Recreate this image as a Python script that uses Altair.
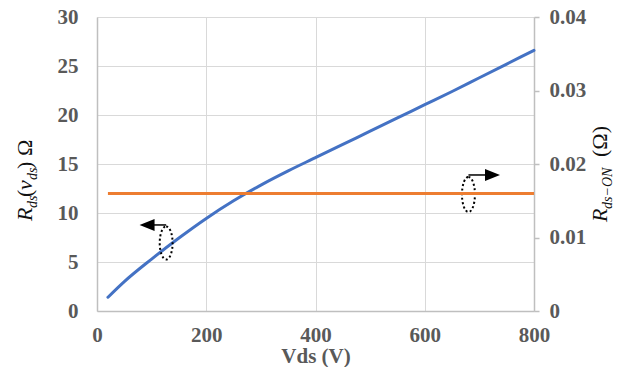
import altair as alt
import pandas as pd

# ---- data ----
vds = [20, 50, 100, 150, 200, 250, 300, 350, 400, 450, 500, 550, 600, 650, 700, 750, 800]
rds = [1.4, 3.0, 5.3, 7.45, 9.45, 11.25, 12.85, 14.3, 15.65, 17.0, 18.35, 19.7, 21.05, 22.4, 23.8, 25.2, 26.6]
ron_v = [20, 800]
ron = [0.016, 0.016]
x_ticks = [0, 200, 400, 600, 800]
left_ticks = [0, 5, 10, 15, 20, 25, 30]
right_ticks = [0, 0.01, 0.02, 0.03, 0.04]

# annotation anchors (data coords on the left scale)
ell_v = [126.6, 680]
ell_r = [6.94, 11.89]
arrow_v = [126.6, 680]
arrow_v2 = [97, 714]
arrow_r = [8.78, 13.88]
head_v = [91.7, 724]
head_r = [8.78, 13.88]

BLUE = "#4472C4"
ORANGE = "#ED7D31"
GRID = "#d9d9d9"
DOMAIN = "#bfbfbf"
LAB = "#595959"
FONT = "Liberation Serif"

xscale = alt.Scale(domain=[0, 800], nice=False, zero=False)
yscale = alt.Scale(domain=[0, 30], nice=False)

df_blue = pd.DataFrame({"v": vds, "r": rds})
df_orange = pd.DataFrame({"v": ron_v, "r2": ron})

blue = alt.Chart(df_blue).mark_line(color=BLUE, strokeWidth=3, strokeCap="round",
                                    interpolate="monotone").encode(
    x=alt.X("v:Q", scale=xscale,
            axis=alt.Axis(values=x_ticks, title="Vds (V)", grid=True, gridColor=GRID,
                          domainColor=DOMAIN, domainWidth=1.5, ticks=False, tickSize=0,
                          labelFont=FONT, labelFontSize=21, labelFontWeight="bold",
                          labelColor=LAB, labelPadding=13, labelFlush=False,
                          titleFont=FONT, titleFontSize=21, titleFontWeight="bold",
                          titleColor=LAB, titlePadding=0)),
    y=alt.Y("r:Q", scale=yscale,
            axis=alt.Axis(values=left_ticks, title=None, orient="left", grid=True,
                          gridColor=GRID, domainColor=DOMAIN, domainWidth=1.5,
                          ticks=False, tickSize=0, labelFont=FONT, labelFontSize=21,
                          labelFontWeight="bold", labelColor=LAB, labelPadding=19)),
)

df_ell = pd.DataFrame({"v": ell_v, "r": ell_r})
ell_left = alt.Chart(df_ell.iloc[[0]]).mark_point(
    shape="M0,-1 A0.39,1 0 1,1 0,1 A0.39,1 0 1,1 0,-1 Z", size=1089,
    filled=False, stroke="black", strokeWidth=2, strokeDash=[2, 2.5], opacity=1,
).encode(x=alt.X("v:Q", scale=xscale), y=alt.Y("r:Q", scale=yscale))
ell_right = alt.Chart(df_ell.iloc[[1]]).mark_point(
    shape="M0,-1 A0.37,1 0 1,1 0,1 A0.37,1 0 1,1 0,-1 Z", size=1225,
    filled=False, stroke="black", strokeWidth=2, strokeDash=[2, 2.5], opacity=1,
).encode(x=alt.X("v:Q", scale=xscale), y=alt.Y("r:Q", scale=yscale))

df_arrow = pd.DataFrame({"v": arrow_v, "v2": arrow_v2, "r": arrow_r})
arrows = alt.Chart(df_arrow).mark_rule(color="black", strokeWidth=1.5).encode(
    x=alt.X("v:Q", scale=xscale), x2="v2:Q",
    y=alt.Y("r:Q", scale=yscale))

df_head = pd.DataFrame({"v": head_v, "r": head_r})
head_left = alt.Chart(df_head.iloc[[0]]).mark_point(
    shape="M-1,0 L1,-0.8 L1,0.8 Z", size=225, filled=True, color="black", opacity=1,
).encode(x=alt.X("v:Q", scale=xscale), y=alt.Y("r:Q", scale=yscale))
head_right = alt.Chart(df_head.iloc[[1]]).mark_point(
    shape="M1,0 L-1,-0.8 L-1,0.8 Z", size=225, filled=True, color="black", opacity=1,
).encode(x=alt.X("v:Q", scale=xscale), y=alt.Y("r:Q", scale=yscale))

orange = alt.Chart(df_orange).mark_line(color=ORANGE, strokeWidth=3).encode(
    x=alt.X("v:Q", scale=xscale),
    y=alt.Y("r2:Q", scale=alt.Scale(domain=[0, 0.04], nice=False),
            axis=alt.Axis(values=right_ticks, title=None, orient="right", grid=False,
                          format="~g", domainColor=DOMAIN, domainWidth=1.5,
                          ticks=True, tickSize=5, tickColor=DOMAIN, tickWidth=1.5,
                          labelFont=FONT, labelFontSize=21, labelFontWeight="bold",
                          labelColor=LAB, labelPadding=10)),
)

# rotated axis titles composed of pieces (layout only)
# (text, x_px, y_px (plot coords), fontSize, italic, dy)
pieces = [
    ("R", -65, 204, 22, True, 0),
    ("ds", -65, 191, 14, True, 5),
    ("(", -65, 180, 22, False, 0),
    ("v", -65, 173, 22, True, 0),
    ("ds", -65, 163, 14, True, 5),
    (")", -65, 152, 22, False, 0),
    ("Ω", -65, 139, 22, False, 0),
    ("R", 510, 205, 22, True, 0),
    ("ds−ON", 510, 192, 14, True, 5),
    ("(Ω)", 510, 140, 22, False, 0),
]
titles = []
for t, px, py, fs, it, dy in pieces:
    titles.append(
        alt.Chart(pd.DataFrame({"t": [t]})).mark_text(
            angle=270, align="left", baseline="alphabetic", font=FONT, fontSize=fs,
            fontStyle="italic" if it else "normal", color="#111111", dy=dy,
        ).encode(text="t:N", x=alt.value(px), y=alt.value(py))
    )

inner = alt.layer(blue, ell_left, ell_right, arrows, head_left, head_right)
chart = alt.layer(inner, orange, *titles).resolve_scale(y="independent").properties(
    width=437, height=294, autosize="none",
    padding={"left": 89, "top": 9, "right": 80, "bottom": 57},
).configure_view(stroke=None)

chart.save("out.html", embed_options={"renderer": "svg", "actions": False})
